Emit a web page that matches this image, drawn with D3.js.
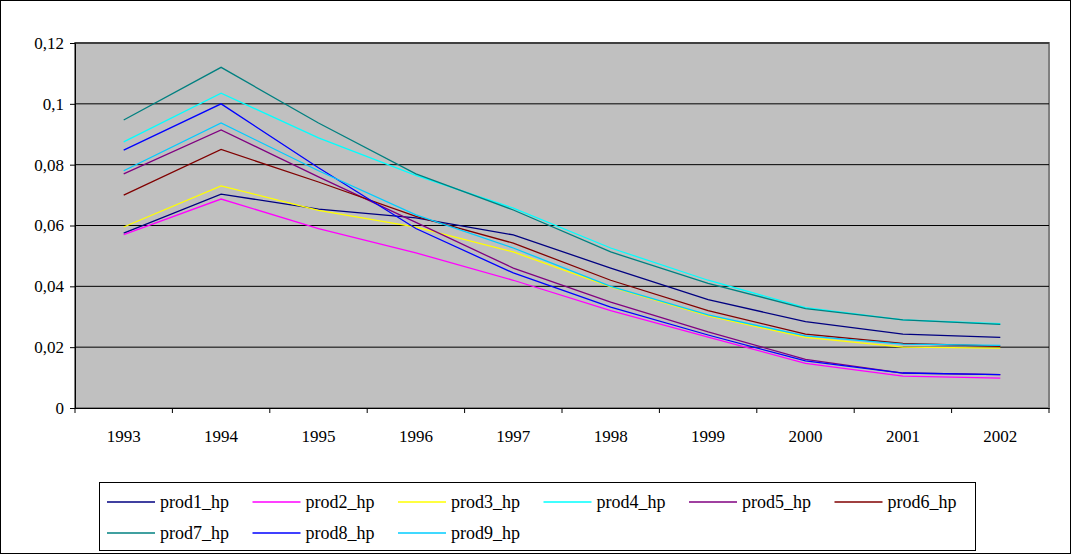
<!DOCTYPE html>
<html><head><meta charset="utf-8">
<script src="https://cdn.jsdelivr.net/npm/d3@7"></script>
<style>body{margin:0;background:#fff}svg{display:block}svg text{font-family:'Times New Roman',Times,'Liberation Serif','DejaVu Serif',serif !important}</style>
</head><body><svg id="chart" width="1071" height="554"></svg>
<script>
const years = ['1993','1994','1995','1996','1997','1998','1999','2000','2001','2002'];
const yTicks = [0, 0.02, 0.04, 0.06, 0.08, 0.1, 0.12];
const prod1 = [0.0575, 0.0703, 0.0654, 0.0625, 0.0569, 0.046, 0.0356, 0.0284, 0.0243, 0.0232];
const prod2 = [0.057, 0.0687, 0.059, 0.051, 0.042, 0.032, 0.0233, 0.0147, 0.0105, 0.0098];
const prod3 = [0.0595, 0.073, 0.065, 0.0595, 0.0513, 0.0398, 0.0303, 0.0232, 0.020, 0.0197];
const prod4 = [0.0875, 0.1035, 0.0888, 0.0765, 0.0657, 0.0526, 0.042, 0.033, 0.029, 0.0277];
const prod5 = [0.077, 0.0914, 0.076, 0.061, 0.046, 0.0348, 0.025, 0.016, 0.0115, 0.011];
const prod6 = [0.070, 0.085, 0.0743, 0.063, 0.0542, 0.042, 0.032, 0.0243, 0.0212, 0.0203];
const prod7 = [0.0947, 0.112, 0.0937, 0.077, 0.0651, 0.0513, 0.041, 0.0327, 0.029, 0.0275];
const prod8 = [0.0848, 0.100, 0.079, 0.059, 0.0444, 0.0332, 0.024, 0.0155, 0.0115, 0.011];
const prod9 = [0.078, 0.0937, 0.078, 0.0635, 0.0526, 0.040, 0.0306, 0.0237, 0.021, 0.0206];
const names = ['prod1_hp','prod2_hp','prod3_hp','prod4_hp','prod5_hp','prod6_hp','prod7_hp','prod8_hp','prod9_hp'];
const colors = ['#000080','#FF00FF','#FFFF00','#00FFFF','#800080','#800000','#008080','#0000FF','#00CCFF'];
const series = [prod1, prod2, prod3, prod4, prod5, prod6, prod7, prod8, prod9];

const svg = d3.select('#chart');
svg.append('rect').attr('x', 0.5).attr('y', 0.5).attr('width', 1070).attr('height', 553)
  .attr('fill', '#fff').attr('stroke', '#000');

const pLeft = 75, pTop = 43, pRight = 1049, pBottom = 408;
const x = d3.scaleBand().domain(years).range([pLeft, pRight]);
const y = d3.scaleLinear().domain([0, 0.12]).range([pBottom, pTop]);

svg.append('rect').attr('x', pLeft).attr('y', pTop).attr('width', pRight - pLeft).attr('height', pBottom - pTop)
  .attr('fill', '#c0c0c0').attr('stroke', '#808080').attr('stroke-width', 2);

svg.append('g').selectAll('line').data(yTicks.slice(1)).join('line')
  .attr('x1', pLeft).attr('x2', pRight).attr('y1', d => y(d)).attr('y2', d => y(d))
  .attr('stroke', '#000').attr('stroke-width', 1);

const fmt = d => d === 0 ? '0' : String(+d.toFixed(2)).replace('.', ',');
svg.append('g').attr('transform', `translate(${pLeft},0)`)
  .call(d3.axisLeft(y).tickValues(yTicks).tickFormat(fmt).tickSize(5).tickPadding(6))
  .call(g => g.selectAll('text').attr('font-size', 17).attr('fill', '#000'));

svg.append('g').attr('transform', `translate(0,${pBottom})`)
  .call(d3.axisBottom(x).tickSize(0).tickPadding(22))
  .call(g => g.selectAll('text').attr('font-size', 17).attr('fill', '#000'));
svg.append('g').selectAll('line').data(years.concat(['end'])).join('line')
  .attr('x1', (d, i) => pLeft + i * x.step()).attr('x2', (d, i) => pLeft + i * x.step())
  .attr('y1', pBottom).attr('y2', pBottom + 5).attr('stroke', '#000');

const line = d3.line().x((d, i) => x(years[i]) + x.bandwidth() / 2).y(d => y(d));
svg.append('g').selectAll('path').data(series).join('path')
  .attr('d', line).attr('fill', 'none').attr('stroke', (d, i) => colors[i]).attr('stroke-width', 1.3);

const lg = svg.append('g');
lg.append('rect').attr('x', 99.5).attr('y', 482.5).attr('width', 876).attr('height', 68)
  .attr('fill', '#fff').attr('stroke', '#000');
names.forEach((n, i) => {
  const cx = 107 + (i % 6) * 145.5, cy = i < 6 ? 502 : 533;
  lg.append('line').attr('x1', cx).attr('x2', cx + 48).attr('y1', cy).attr('y2', cy)
    .attr('stroke', colors[i]).attr('stroke-width', 1.5);
  lg.append('text').attr('x', cx + 53).attr('y', cy + 6).attr('font-size', 18).text(n);
});
</script></body></html>
